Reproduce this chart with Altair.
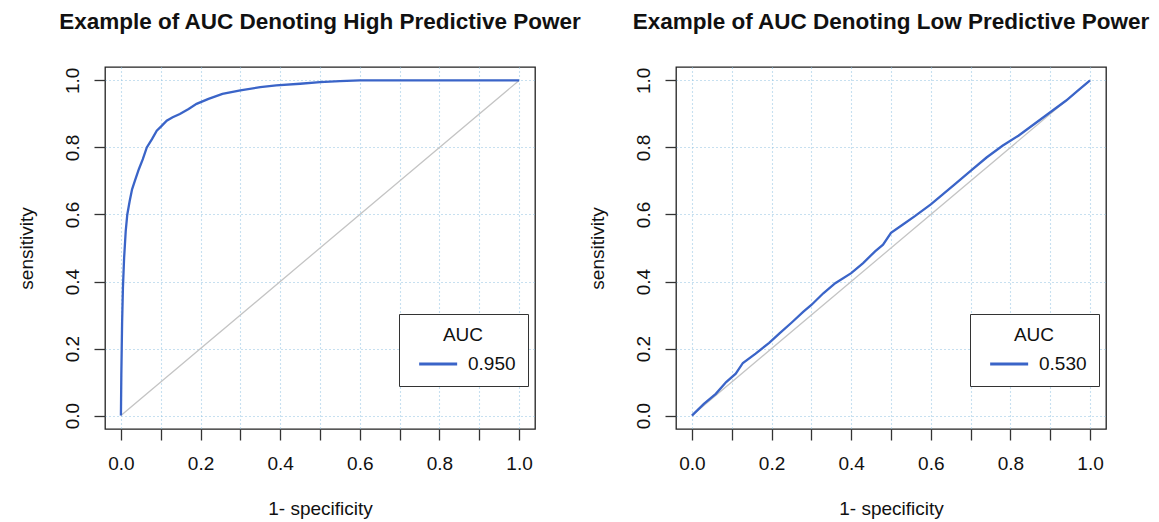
import altair as alt
import pandas as pd

# ---- data ----
high_fpr = [0, 0.001, 0.002, 0.003, 0.005, 0.008, 0.012, 0.016, 0.022, 0.028, 0.035, 0.045,
            0.055, 0.065, 0.078, 0.09, 0.103, 0.115, 0.13, 0.148, 0.17, 0.19, 0.22, 0.255,
            0.3, 0.35, 0.39, 0.45, 0.5, 0.55, 0.6, 0.7, 0.8, 0.9, 1.0]
high_tpr = [0, 0.12, 0.2, 0.28, 0.38, 0.47, 0.55, 0.6, 0.64, 0.675, 0.7, 0.735,
            0.765, 0.8, 0.825, 0.85, 0.865, 0.88, 0.89, 0.9, 0.915, 0.93, 0.945, 0.96,
            0.97, 0.98, 0.985, 0.99, 0.995, 0.998, 1.0, 1.0, 1.0, 1.0, 1.0]
low_fpr = [0, 0.03, 0.06, 0.086, 0.11, 0.128, 0.16, 0.194, 0.22, 0.25, 0.28, 0.3, 0.33,
           0.36, 0.4, 0.43, 0.46, 0.48, 0.5, 0.53, 0.56, 0.6, 0.63, 0.66, 0.7, 0.74,
           0.78, 0.82, 0.86, 0.9, 0.94, 0.97, 1.0]
low_tpr = [0, 0.035, 0.065, 0.1, 0.125, 0.157, 0.185, 0.217, 0.245, 0.277, 0.31, 0.33,
           0.365, 0.395, 0.425, 0.455, 0.49, 0.51, 0.545, 0.57, 0.595, 0.63, 0.66, 0.69,
           0.73, 0.77, 0.805, 0.835, 0.87, 0.905, 0.94, 0.97, 1.0]
diag_x = [0, 1]
diag_y = [0, 1]
auc_high = "0.950"
auc_low = "0.530"
titles = ["Example of AUC Denoting High Predictive Power",
          "Example of AUC Denoting Low Predictive Power"]
tick_values = [round(i * 0.1, 1) for i in range(11)]

FONT = "Liberation Sans"
BLUE = "#3a64c8"
GRID = "#8fc2e2"


def axis(title, angle=None):
    kw = dict(
        values=tick_values,
        labelExpr="round(datum.value*10) % 2 == 0 ? format(datum.value, '.1f') : ''",
        domain=False,
        ticks=True,
        tickSize=11,
        tickColor="#333333",
        tickWidth=1.3,
        grid=True,
        gridColor=GRID,
        gridDash=[1, 3],
        gridWidth=1.1,
        labelFont=FONT,
        labelFontSize=19,
        labelColor="#111111",
        title=title,
        titleFont=FONT,
        titleFontSize=19,
        titleFontWeight="normal",
        titleColor="#111111",
        labelFlush=False,
        labelOverlap=False,
    )
    if angle is not None:
        kw.update(labelAngle=angle, labelAlign="center", labelBaseline="alphabetic",
                  labelPadding=16, titlePadding=27)
    else:
        kw.update(labelPadding=14, titlePadding=26)
    return alt.Axis(**kw)


def panel(fpr, tpr, auc, title):
    curve = pd.DataFrame({"fpr": fpr, "tpr": tpr, "AUC": auc, "i": list(range(len(fpr)))})
    diag = pd.DataFrame({"fpr": diag_x, "tpr": diag_y})
    sc_x = alt.Scale(domain=[-0.04, 1.04], nice=False, zero=False)
    sc_y = alt.Scale(domain=[-0.04, 1.04], nice=False, zero=False)
    d = alt.Chart(diag).mark_line(color="#c4c4c4", strokeWidth=1.3).encode(
        x=alt.X("fpr:Q", scale=sc_x, axis=axis("1- specificity")),
        y=alt.Y("tpr:Q", scale=sc_y, axis=axis("sensitivity", -90)),
    )
    c = alt.Chart(curve).mark_line(strokeWidth=2.3).encode(
        x=alt.X("fpr:Q", scale=sc_x),
        y=alt.Y("tpr:Q", scale=sc_y),
        order=alt.Order("i:Q"),
        color=alt.Color(
            "AUC:N",
            scale=alt.Scale(domain=[auc], range=[BLUE]),
            legend=alt.Legend(
                title="AUC",
                orient="none",
                legendX=294,
                legendY=247,
                titleAnchor="middle",
                titleAlign="center",
                titleFont=FONT,
                titleFontSize=19,
                titleFontWeight="normal",
                titleColor="#111111",
                titlePadding=8,
                labelFont=FONT,
                labelFontSize=19,
                labelColor="#111111",
                labelOffset=35,
                symbolType="M-0.3,0H3.7",
                symbolSize=361,
                symbolStrokeWidth=2.8,
                padding=12,
                strokeColor="#333333",
                fillColor="white",
            ),
        ),
    )
    return alt.layer(d, c).properties(
        width=430,
        height=362,
        title=alt.TitleParams(title, font=FONT, fontSize=22.5, fontWeight="bold",
                              color="#111111", anchor="middle", offset=34),
    )


left = panel(high_fpr, high_tpr, auc_high, titles[0])
right = panel(low_fpr, low_tpr, auc_low, titles[1])

chart = alt.hconcat(left, right, spacing=141, bounds="flush").resolve_scale(
    color="independent"
).properties(
    padding={"left": 8, "top": 1, "right": 0, "bottom": 5},
    background="white",
).configure_view(stroke="#222222", strokeWidth=1.3)

chart.save("out.html", embed_options={"renderer": "svg", "actions": False})
